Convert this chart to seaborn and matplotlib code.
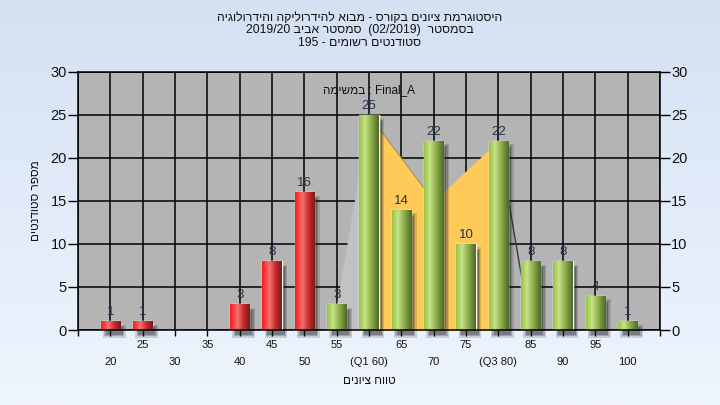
import numpy as np
import matplotlib
matplotlib.use("Agg")
import matplotlib.pyplot as plt
import seaborn as sns
from matplotlib.patches import Rectangle
from matplotlib.colors import LinearSegmentedColormap

# grade bins and number of students in each
GRADES = [20, 25, 30, 35, 40, 45, 50, 55, 60, 65, 70, 75, 80, 85, 90, 95, 100]
COUNTS = [1, 1, 0, 0, 3, 8, 16, 3, 25, 14, 22, 10, 22, 8, 8, 4, 1]
PASS_GRADE = 55
Q1, Q3 = 60, 80

# x tick labels (multiples of 10 go on the lower row)
TICK_GRADES = [20, 25, 30, 35, 40, 45, 50, 55, 60, 65, 70, 75, 80, 85, 90, 95, 100]
TICK_TEXT = ["20", "25", "30", "35", "40", "45", "50", "55", "(Q1 60)", "65",
             "70", "75", "(Q3 80)", "85", "90", "95", "100"]

# outline series drawn behind the bars
CURVE_X = [55, 60, 70, 80, 85]
CURVE_Y = [3, 25, 15, 22, 0]

TITLE_LINES = [
    "היסטוגרמת ציונים בקורס - מבוא להידרוליקה והידרולוגיה",
    "בסמסטר  (02/2019)  סמסטר אביב 2019/20",
    "סטודנטים רשומים - 195",
]
TASK_LABEL = "Final_A : במשימה"
X_LABEL = "טווח ציונים"
Y_LABEL = "מספר סטודנטים"


def rtl(s):
    """Visual order for right-to-left text (matplotlib has no bidi)."""
    out = []
    for tok in reversed(s.split(" ")):
        if any("\u0590" <= ch <= "\u05ff" for ch in tok):
            tok = tok[::-1]
        out.append(tok)
    return " ".join(out)


FONT = ["Liberation Sans", "DejaVu Sans"]
sns.set_theme(style="white")
plt.rcParams["font.family"] = FONT

fig = plt.figure(figsize=(7.2, 4.05), dpi=100)

# light blue gradient background
bg = fig.add_axes([0, 0, 1, 1], zorder=-10)
bg_cmap = LinearSegmentedColormap.from_list("bg", ["#eff5fe", "#d4e1f3"])
bg.imshow(np.linspace(0, 1, 256).reshape(-1, 1), cmap=bg_cmap, aspect="auto",
          extent=[0, 1, 0, 1], origin="lower")
bg.axis("off")

ax = fig.add_axes([78 / 720, 1 - 330 / 405, 582 / 720, 258 / 405])
ax.set_facecolor("#b4b4b4")
ax.set_axisbelow(True)

groups = ["fail" if g < PASS_GRADE else "pass" for g in GRADES]
sns.barplot(x=GRADES, y=COUNTS, hue=groups, native_scale=True, width=0.6,
            dodge=False, palette={"fail": "#e02525", "pass": "#96bf4a"},
            legend=False, saturation=1, ax=ax, zorder=4)

red_cmap = LinearSegmentedColormap.from_list(
    "red", [(0, "#f41c1c"), (0.12, "#ff3434"), (0.38, "#f27070"),
            (0.7, "#c42828"), (1, "#7c1a1a")])
green_cmap = LinearSegmentedColormap.from_list(
    "green", [(0, "#98c444"), (0.3, "#c8e388"), (0.6, "#8fb04c"),
              (1, "#4e6828")])
grad = np.linspace(0, 1, 64).reshape(1, -1)

px_x = 582 / 90.0
px_y = 258 / 30.0
for p in ax.patches:
    h = p.get_height()
    if h <= 0:
        continue
    x0, w = p.get_x(), p.get_width()
    xc = x0 + w / 2
    # soft drop shadow
    for k, a in enumerate([0.16, 0.22, 0.3]):
        grow = (2 - k) * 1.3
        sh = Rectangle((x0 + 5 / px_x - grow / px_x, -5 / px_y - grow / px_y),
                       w + 2 * grow / px_x - 2 / px_x, h + 2 * grow / px_y - 1 / px_y,
                       facecolor="#1c1c1c", edgecolor="none", alpha=a,
                       zorder=3.5, clip_on=False)
        ax.add_patch(sh)
    cmap = red_cmap if xc < PASS_GRADE else green_cmap
    im = ax.imshow(grad, cmap=cmap, aspect="auto", extent=[x0, x0 + w, 0, h],
                   zorder=4.5, interpolation="bilinear")
    im.set_clip_path(p)

# area behind the bars
cx = np.array(CURVE_X)
cy = np.array(CURVE_Y)
left = cx <= Q1
iqr = (cx >= Q1) & (cx <= Q3)
right = cx >= Q3
ax.fill_between(cx[left], cy[left], color="#c2c2c2", lw=0, zorder=2)
ax.fill_between(cx[iqr], cy[iqr], color="#ffca58", lw=0, zorder=2)
ax.plot(cx[1:3], cy[1:3], color="#a88a4a", lw=0.7, zorder=2.1)
ax.plot(cx[right], cy[right], color="#3a3a3a", lw=1.0, zorder=2.1)

# value labels
for g, c in zip(GRADES, COUNTS):
    if c > 0:
        ax.text(g, c + 0.35, str(c), ha="center", va="bottom", fontsize=9.5,
                color="#22324c", zorder=6)

ax.set_xlim(15, 105)
ax.set_ylim(0, 30)
ax.set_yticks(range(0, 31, 5))
ax.grid(True, color="black", lw=1.1)
ax.set_xticks(range(15, 106, 5))
labels = [""]
for g, t in zip(TICK_GRADES, TICK_TEXT):
    labels.append("\n" + t if g % 10 == 0 else t)
labels.append("")
ax.set_xticklabels(labels, fontsize=8, color="#111111")
for lbl in ax.get_xticklabels():
    lbl.set_linespacing(1.85)
ax.tick_params(axis="x", bottom=True, length=4, width=1, pad=3, color="black")
ax.tick_params(axis="y", left=True, right=True, labelleft=True,
               labelright=True, length=7, width=1, pad=1, labelsize=10.5,
               color="black", labelcolor="#111111")
for s in ax.spines.values():
    s.set_color("black")
    s.set_linewidth(1.1)
    s.set_zorder(7)

ax.set_xlabel(rtl(X_LABEL), fontsize=8.5, labelpad=6, color="#111111")
ax.set_ylabel(rtl(Y_LABEL), fontsize=8.5, labelpad=6, color="#111111")

ax.text(0.5, 0.955, rtl(TASK_LABEL), transform=ax.transAxes, ha="center",
        va="top", fontsize=8.5, color="#111111", zorder=8)

for i, line in enumerate(TITLE_LINES):
    fig.text(0.5, 1 - (18 + i * 12.5) / 405, rtl(line), ha="center",
             va="center", fontsize=8.8, color="#111111")

fig.savefig("out.png", dpi=100)
